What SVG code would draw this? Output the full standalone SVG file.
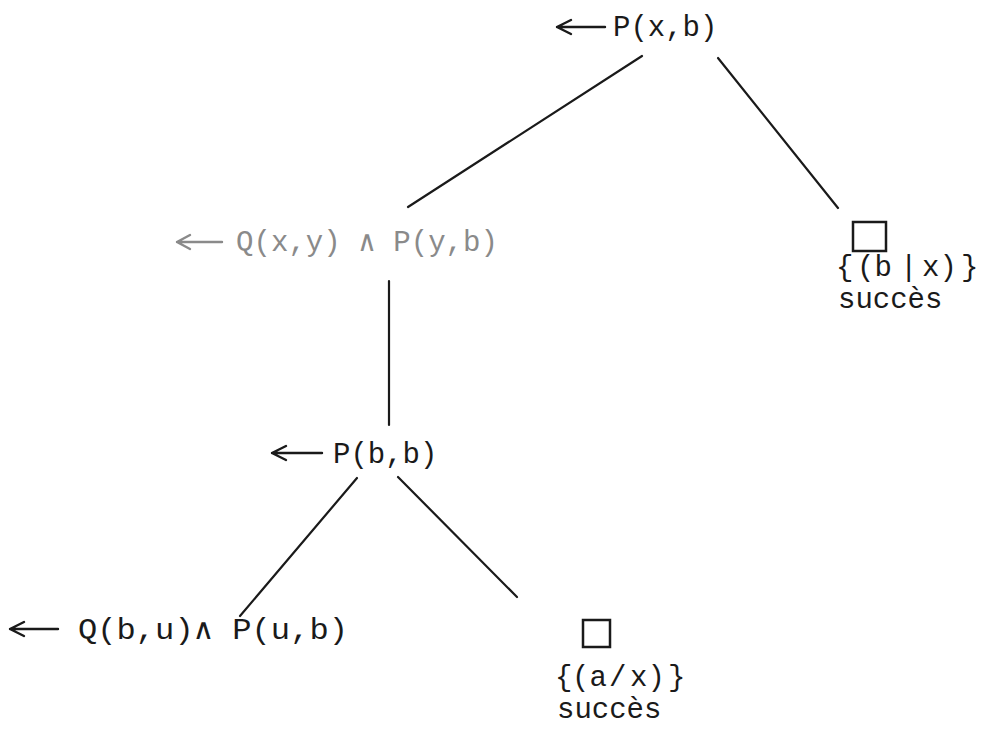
<svg xmlns="http://www.w3.org/2000/svg" width="1001" height="736" viewBox="0 0 1001 736">
<style>
text{font-family:"Liberation Mono","Courier New",monospace;font-size:29px;fill:#1a1a1a}
.g{fill:#8a8a8a}
.e{stroke:#1a1a1a;stroke-width:2.2;fill:none;stroke-linecap:round}
.ar{stroke:#1a1a1a;stroke-width:2.4;fill:none;stroke-linecap:round;stroke-linejoin:round}
.ag{stroke:#8a8a8a}
.box{stroke:#1a1a1a;stroke-width:2.5;fill:none}
</style>
<rect width="1001" height="736" fill="#ffffff"/>
<g id="connectors">
<line class="e" x1="642" y1="56" x2="408" y2="207"/>
<line class="e" x1="718" y1="58" x2="838" y2="208"/>
<line class="e" x1="389" y1="281" x2="389" y2="425"/>
<line class="e" x1="357" y1="478" x2="240" y2="616"/>
<line class="e" x1="398" y1="477" x2="517" y2="597"/>
</g>
<g id="n1">
<path class="ar" d="M557,27 H605 M571,20 L557,27 L571,34"/>
<text x="613" y="36">P(x,b)</text>
</g>
<g id="n2">
<path class="ar ag" d="M177,242 H222 M190,235 L177,242 L190,249"/>
<text class="g" x="236" y="251" textLength="262" lengthAdjust="spacingAndGlyphs">Q(x,y) ∧ P(y,b)</text>
</g>
<g id="n3">
<rect class="box" x="853" y="222" width="33" height="29"/>
<text y="276"><tspan x="836">{</tspan><tspan x="857">(b</tspan><tspan x="900">|</tspan><tspan x="922">x)</tspan><tspan x="961">}</tspan></text>
<text x="838" y="308">succès</text>
</g>
<g id="n4">
<path class="ar" d="M272,453 H322 M286,446 L272,453 L286,460"/>
<text x="333" y="463">P(b,b)</text>
</g>
<g id="n5">
<path class="ar" d="M10,629 H58 M24,622 L10,629 L24,636"/>
<text x="78" y="639" textLength="270" lengthAdjust="spacingAndGlyphs">Q(b,u)∧ P(u,b)</text>
</g>
<g id="n6">
<rect class="box" x="583" y="620" width="27" height="27"/>
<text y="686"><tspan x="555">{</tspan><tspan x="572">(a</tspan><tspan x="609">/</tspan><tspan x="630">x)</tspan><tspan x="668">}</tspan></text>
<text x="557" y="718">succès</text>
</g>
</svg>
